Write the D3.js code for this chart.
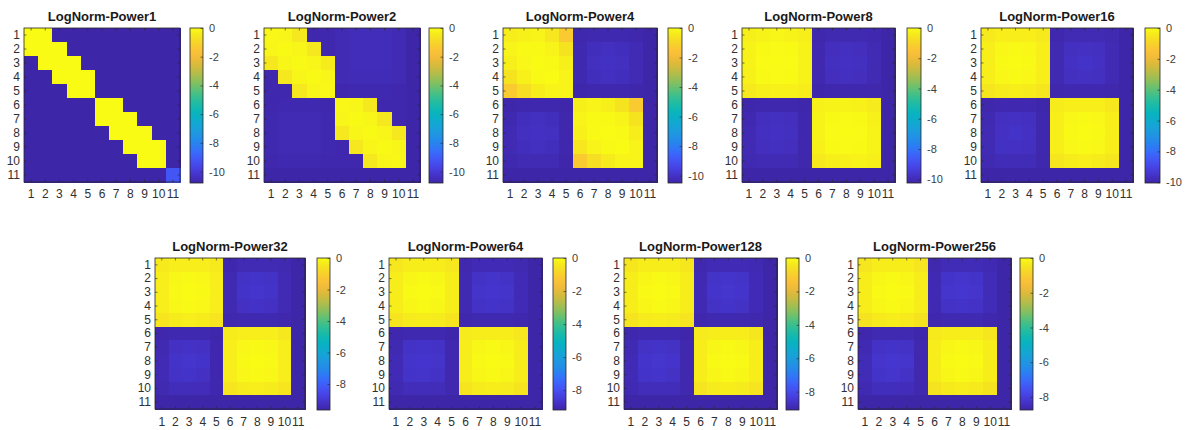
<!DOCTYPE html>
<html>
<head>
<meta charset="utf-8">
<script src="https://cdn.jsdelivr.net/npm/d3@7"></script>
<style>
  html, body { margin: 0; padding: 0; background: #ffffff; }
  svg { display: block; font-family: "Liberation Sans", Arial, Helvetica, sans-serif; }
</style>
</head>
<body>
<svg id="chart" width="1186" height="430"></svg>
<script>
// ---------------- DATA ----------------
const categories = ["1","2","3","4","5","6","7","8","9","10","11"];

const titles = ["LogNorm-Power1","LogNorm-Power2","LogNorm-Power4","LogNorm-Power8","LogNorm-Power16",
                "LogNorm-Power32","LogNorm-Power64","LogNorm-Power128","LogNorm-Power256"];

// colour limits (colorbar range) for each panel
const climLow  = [-10.8, -10.8, -10.5, -10.25, -10.05, -9.65, -9.2, -9.1, -8.75];
const climHigh = [0, 0, 0, 0, 0, 0, 0, 0, 0];

const cbTicksA = [0, -2, -4, -6, -8, -10];
const cbTicksB = [0, -2, -4, -6, -8];

// 11 x 11 log-normalised matrices (row = y label, column = x label)
const power1 = [
  [0,0,-10.8,-10.8,-10.8,-10.8,-10.8,-10.8,-10.8,-10.8,-10.8],
  [0,0,0,-10.8,-10.8,-10.8,-10.8,-10.8,-10.8,-10.8,-10.8],
  [-10.8,0,0,0,-10.8,-10.8,-10.8,-10.8,-10.8,-10.8,-10.8],
  [-10.8,-10.8,0,0,0,-10.8,-10.8,-10.8,-10.8,-10.8,-10.8],
  [-10.8,-10.8,-10.8,0,0,-10.8,-10.8,-10.8,-10.8,-10.8,-10.8],
  [-10.8,-10.8,-10.8,-10.8,-10.8,0,0,-10.8,-10.8,-10.8,-10.8],
  [-10.8,-10.8,-10.8,-10.8,-10.8,0,0,0,-10.8,-10.8,-10.8],
  [-10.8,-10.8,-10.8,-10.8,-10.8,-10.8,0,0,0,-10.8,-10.8],
  [-10.8,-10.8,-10.8,-10.8,-10.8,-10.8,-10.8,0,0,0,-10.8],
  [-10.8,-10.8,-10.8,-10.8,-10.8,-10.8,-10.8,-10.8,0,0,-10.8],
  [-10.8,-10.8,-10.8,-10.8,-10.8,-10.8,-10.8,-10.8,-10.8,-10.8,-9.2]
];
const power2 = [
  [-0.1,-0.15,-0.5,-10.7,-10.7,-10.6,-10.5,-10.5,-10.5,-10.6,-10.8],
  [-0.15,-0.05,-0.15,-0.5,-10.7,-10.6,-10.5,-10.5,-10.5,-10.6,-10.8],
  [-0.5,-0.15,-0.05,-0.15,-0.4,-10.6,-10.5,-10.5,-10.5,-10.6,-10.8],
  [-10.7,-0.5,-0.15,-0.05,-0.15,-10.6,-10.55,-10.55,-10.55,-10.6,-10.8],
  [-10.7,-10.7,-0.5,-0.15,-0.1,-10.7,-10.65,-10.65,-10.65,-10.7,-10.8],
  [-10.7,-10.65,-10.65,-10.65,-10.7,-0.1,-0.15,-0.5,-10.7,-10.7,-10.8],
  [-10.65,-10.6,-10.6,-10.6,-10.65,-0.15,-0.05,-0.15,-0.5,-10.7,-10.8],
  [-10.65,-10.6,-10.6,-10.6,-10.65,-0.5,-0.15,-0.05,-0.15,-0.5,-10.8],
  [-10.65,-10.6,-10.6,-10.6,-10.65,-10.7,-0.5,-0.15,-0.05,-0.15,-10.8],
  [-10.7,-10.65,-10.65,-10.65,-10.7,-10.7,-10.7,-0.5,-0.15,-0.1,-10.8],
  [-10.8,-10.8,-10.8,-10.8,-10.8,-10.8,-10.8,-10.8,-10.8,-10.8,-10.8]
];
const power4 = [
  [-0.35,-0.25,-0.2,-0.5,-1.3,-10.4,-10.35,-10.35,-10.35,-10.4,-10.5],
  [-0.2,-0.05,-0.05,-0.2,-0.6,-10.35,-10.15,-10.1,-10.15,-10.3,-10.5],
  [-0.3,-0.1,0,-0.05,-0.3,-10.35,-10.1,-10.05,-10.1,-10.3,-10.5],
  [-0.6,-0.25,-0.05,0,-0.2,-10.35,-10.15,-10.1,-10.15,-10.3,-10.5],
  [-1.3,-0.7,-0.35,-0.2,-0.2,-10.45,-10.4,-10.4,-10.4,-10.45,-10.5],
  [-10.45,-10.4,-10.4,-10.4,-10.45,-0.3,-0.2,-0.3,-0.6,-1.3,-10.5],
  [-10.35,-10.15,-10.1,-10.15,-10.4,-0.2,-0.05,-0.05,-0.2,-0.6,-10.5],
  [-10.3,-10.1,-10.05,-10.1,-10.4,-0.25,-0.05,0,-0.05,-0.35,-10.5],
  [-10.3,-10.15,-10.1,-10.15,-10.4,-0.5,-0.2,-0.05,0,-0.2,-10.5],
  [-10.35,-10.3,-10.3,-10.3,-10.45,-1.3,-0.7,-0.4,-0.2,-0.2,-10.5],
  [-10.5,-10.5,-10.5,-10.5,-10.5,-10.5,-10.5,-10.5,-10.5,-10.5,-10.5]
];
const power8 = [
  [-0.3,-0.2,-0.15,-0.2,-0.3,-10.15,-10.1,-10.1,-10.1,-10.12,-10.25],
  [-0.2,-0.05,-0.02,-0.05,-0.2,-10.12,-9.9,-9.85,-9.9,-10.05,-10.25],
  [-0.2,-0.02,0,-0.02,-0.2,-10.12,-9.85,-9.8,-9.85,-10.05,-10.25],
  [-0.25,-0.05,-0.02,-0.05,-0.2,-10.12,-9.9,-9.85,-9.9,-10.05,-10.25],
  [-0.45,-0.3,-0.25,-0.25,-0.35,-10.2,-10.15,-10.15,-10.15,-10.18,-10.25],
  [-10.2,-10.15,-10.15,-10.15,-10.2,-0.25,-0.2,-0.2,-0.25,-0.4,-10.25],
  [-10.12,-9.9,-9.85,-9.9,-10.15,-0.2,-0.05,-0.02,-0.05,-0.25,-10.25],
  [-10.05,-9.85,-9.8,-9.85,-10.15,-0.2,-0.02,0,-0.02,-0.2,-10.25],
  [-10.05,-9.9,-9.85,-9.9,-10.15,-0.25,-0.05,-0.02,-0.05,-0.2,-10.25],
  [-10.1,-10.05,-10.05,-10.05,-10.18,-0.45,-0.3,-0.25,-0.2,-0.3,-10.25],
  [-10.25,-10.25,-10.25,-10.25,-10.25,-10.25,-10.25,-10.25,-10.25,-10.25,-10.25]
];
const power16 = [
  [-0.4,-0.3,-0.3,-0.3,-0.4,-9.95,-9.85,-9.85,-9.85,-9.9,-10.05],
  [-0.3,-0.1,-0.05,-0.1,-0.3,-9.9,-9.65,-9.6,-9.65,-9.85,-10.05],
  [-0.3,-0.05,0,-0.05,-0.3,-9.9,-9.6,-9.55,-9.6,-9.85,-10.05],
  [-0.3,-0.1,-0.05,-0.1,-0.3,-9.9,-9.65,-9.6,-9.65,-9.85,-10.05],
  [-0.5,-0.35,-0.3,-0.35,-0.5,-9.98,-9.92,-9.92,-9.92,-9.98,-10.05],
  [-9.98,-9.92,-9.92,-9.92,-10.0,-0.35,-0.3,-0.3,-0.3,-0.45,-10.05],
  [-9.9,-9.65,-9.6,-9.65,-9.95,-0.3,-0.1,-0.05,-0.1,-0.3,-10.05],
  [-9.85,-9.6,-9.55,-9.6,-9.95,-0.3,-0.05,0,-0.05,-0.3,-10.05],
  [-9.85,-9.62,-9.6,-9.65,-9.95,-0.3,-0.1,-0.05,-0.1,-0.3,-10.05],
  [-9.9,-9.8,-9.8,-9.82,-9.95,-0.5,-0.35,-0.3,-0.35,-0.5,-10.05],
  [-10.05,-10.05,-10.05,-10.05,-10.05,-10.05,-10.05,-10.05,-10.05,-10.05,-10.05]
];
const power32 = [
  [-0.4,-0.3,-0.3,-0.3,-0.4,-9.55,-9.45,-9.45,-9.45,-9.5,-9.65],
  [-0.3,-0.1,-0.05,-0.1,-0.3,-9.5,-9.2,-9.15,-9.2,-9.45,-9.65],
  [-0.3,-0.05,0,-0.05,-0.3,-9.5,-9.15,-9.1,-9.15,-9.45,-9.65],
  [-0.3,-0.1,-0.05,-0.1,-0.3,-9.5,-9.22,-9.18,-9.22,-9.45,-9.65],
  [-0.5,-0.35,-0.3,-0.35,-0.5,-9.58,-9.52,-9.52,-9.52,-9.58,-9.65],
  [-9.58,-9.52,-9.52,-9.52,-9.6,-0.35,-0.3,-0.3,-0.3,-0.45,-9.65],
  [-9.5,-9.22,-9.18,-9.22,-9.55,-0.3,-0.1,-0.05,-0.1,-0.3,-9.65],
  [-9.45,-9.15,-9.1,-9.15,-9.55,-0.3,-0.05,0,-0.05,-0.3,-9.65],
  [-9.45,-9.18,-9.15,-9.22,-9.55,-0.3,-0.1,-0.05,-0.1,-0.3,-9.65],
  [-9.5,-9.38,-9.38,-9.4,-9.55,-0.5,-0.35,-0.3,-0.35,-0.5,-9.65],
  [-9.65,-9.65,-9.65,-9.65,-9.65,-9.65,-9.65,-9.65,-9.65,-9.65,-9.65]
];
const power64 = [
  [-0.45,-0.3,-0.3,-0.3,-0.45,-9.1,-9.0,-9.0,-9.0,-9.05,-9.2],
  [-0.3,-0.1,-0.05,-0.1,-0.3,-9.05,-8.75,-8.7,-8.75,-9.0,-9.2],
  [-0.3,-0.05,0,-0.05,-0.3,-9.05,-8.7,-8.65,-8.7,-9.0,-9.2],
  [-0.3,-0.1,-0.05,-0.1,-0.3,-9.05,-8.78,-8.74,-8.78,-9.0,-9.2],
  [-0.5,-0.35,-0.3,-0.35,-0.5,-9.13,-9.07,-9.07,-9.07,-9.13,-9.2],
  [-9.13,-9.07,-9.07,-9.07,-9.15,-0.35,-0.3,-0.3,-0.3,-0.45,-9.2],
  [-9.05,-8.78,-8.74,-8.78,-9.1,-0.3,-0.1,-0.05,-0.1,-0.3,-9.2],
  [-9.0,-8.7,-8.65,-8.7,-9.1,-0.3,-0.05,0,-0.05,-0.3,-9.2],
  [-9.0,-8.74,-8.7,-8.78,-9.1,-0.3,-0.1,-0.05,-0.1,-0.3,-9.2],
  [-9.05,-8.93,-8.93,-8.95,-9.1,-0.5,-0.35,-0.3,-0.35,-0.5,-9.2],
  [-9.2,-9.2,-9.2,-9.2,-9.2,-9.2,-9.2,-9.2,-9.2,-9.2,-9.2]
];
const power128 = [
  [-0.45,-0.3,-0.3,-0.3,-0.45,-9.0,-8.9,-8.9,-8.9,-8.95,-9.1],
  [-0.3,-0.1,-0.05,-0.1,-0.3,-8.95,-8.65,-8.6,-8.65,-8.9,-9.1],
  [-0.3,-0.05,0,-0.05,-0.3,-8.95,-8.6,-8.55,-8.6,-8.9,-9.1],
  [-0.3,-0.1,-0.05,-0.1,-0.3,-8.95,-8.68,-8.64,-8.68,-8.9,-9.1],
  [-0.5,-0.35,-0.3,-0.35,-0.5,-9.03,-8.97,-8.97,-8.97,-9.03,-9.1],
  [-9.03,-8.97,-8.97,-8.97,-9.05,-0.35,-0.3,-0.3,-0.3,-0.45,-9.1],
  [-8.95,-8.68,-8.64,-8.68,-9.0,-0.3,-0.1,-0.05,-0.1,-0.3,-9.1],
  [-8.9,-8.6,-8.55,-8.6,-9.0,-0.3,-0.05,0,-0.05,-0.3,-9.1],
  [-8.9,-8.64,-8.6,-8.68,-9.0,-0.3,-0.1,-0.05,-0.1,-0.3,-9.1],
  [-8.95,-8.83,-8.83,-8.85,-9.0,-0.5,-0.35,-0.3,-0.35,-0.5,-9.1],
  [-9.1,-9.1,-9.1,-9.1,-9.1,-9.1,-9.1,-9.1,-9.1,-9.1,-9.1]
];
const power256 = [
  [-0.45,-0.3,-0.3,-0.3,-0.45,-8.65,-8.55,-8.55,-8.55,-8.6,-8.75],
  [-0.3,-0.1,-0.05,-0.1,-0.3,-8.6,-8.3,-8.25,-8.3,-8.55,-8.75],
  [-0.3,-0.05,0,-0.05,-0.3,-8.6,-8.25,-8.2,-8.25,-8.55,-8.75],
  [-0.3,-0.1,-0.05,-0.1,-0.3,-8.6,-8.33,-8.29,-8.33,-8.55,-8.75],
  [-0.5,-0.35,-0.3,-0.35,-0.5,-8.68,-8.62,-8.62,-8.62,-8.68,-8.75],
  [-8.68,-8.62,-8.62,-8.62,-8.7,-0.35,-0.3,-0.3,-0.3,-0.45,-8.75],
  [-8.6,-8.33,-8.29,-8.33,-8.65,-0.3,-0.1,-0.05,-0.1,-0.3,-8.75],
  [-8.55,-8.25,-8.2,-8.25,-8.65,-0.3,-0.05,0,-0.05,-0.3,-8.75],
  [-8.55,-8.29,-8.25,-8.33,-8.65,-0.3,-0.1,-0.05,-0.1,-0.3,-8.75],
  [-8.6,-8.48,-8.48,-8.5,-8.65,-0.5,-0.35,-0.3,-0.35,-0.5,-8.75],
  [-8.75,-8.75,-8.75,-8.75,-8.75,-8.75,-8.75,-8.75,-8.75,-8.75,-8.75]
];
const matrices = [power1, power2, power4, power8, power16, power32, power64, power128, power256];

// ---------------- LAYOUT ----------------
// [plotLeft, plotRight, plotTop, plotBottom, cbLeft, cbRight]
const layout = [
  [24, 180, 28, 182, 190, 203],
  [264, 420, 28, 182, 429, 443],
  [503, 657, 28, 182, 668, 682],
  [742, 895, 28, 182, 907, 921],
  [981, 1133, 28, 182, 1145, 1160],
  [155, 305, 258, 409, 317, 330],
  [389, 542, 258, 409, 553, 566],
  [624, 777, 258, 409, 786, 799],
  [858, 1011, 258, 409, 1020, 1033]
];

// parula colormap stops (MATLAB default)
const parulaStops = [
  [62,38,168],[69,50,200],[71,66,230],[68,85,246],[55,108,253],[40,130,240],
  [33,146,228],[26,160,218],[14,171,206],[5,180,190],[25,186,170],[50,191,148],
  [90,193,120],[135,192,95],[175,189,75],[210,186,62],[238,185,56],[254,193,58],
  [246,210,42],[245,230,30],[249,251,21]
];
const parula = d3.interpolateRgbBasis(parulaStops.map(c => d3.rgb(c[0], c[1], c[2])));

// ---------------- DRAW ----------------
const svg = d3.select("#chart");
const defs = svg.append("defs");
const textColor = "#303030";

matrices.forEach((mat, k) => {
  const [L, R, T, B, cL, cR] = layout[k];
  const g = svg.append("g");

  const x = d3.scaleBand().domain(categories).range([L, R]);
  const y = d3.scaleBand().domain(categories).range([T, B]);
  const color = d3.scaleSequential(parula).domain([climLow[k], climHigh[k]]).clamp(true);

  const cells = [];
  mat.forEach((row, i) => row.forEach((v, j) => cells.push({r: categories[i], c: categories[j], v})));

  g.selectAll("rect.cell").data(cells).join("rect")
    .attr("class", "cell")
    .attr("x", d => x(d.c))
    .attr("y", d => y(d.r))
    .attr("width", x.bandwidth() + 0.5)
    .attr("height", y.bandwidth() + 0.5)
    .attr("fill", d => color(d.v))
    .attr("shape-rendering", "crispEdges");

  // axes (ticks pointing inward like MATLAB)
  const fmt = d => d;
  const xb = g.append("g").attr("transform", `translate(0,${B})`)
    .call(d3.axisBottom(x).tickSizeInner(-2.5).tickSizeOuter(0).tickPadding(k < 5 ? 7 : 8).tickFormat(fmt));
  const xt = g.append("g").attr("transform", `translate(0,${T})`)
    .call(d3.axisTop(x).tickSizeInner(-2.5).tickSizeOuter(0).tickFormat(""));
  const yl = g.append("g").attr("transform", `translate(${L},0)`)
    .call(d3.axisLeft(y).tickSizeInner(-2.5).tickSizeOuter(0).tickPadding(4).tickFormat(fmt));
  const yr = g.append("g").attr("transform", `translate(${R},0)`)
    .call(d3.axisRight(y).tickSizeInner(-2.5).tickSizeOuter(0).tickFormat(""));
  [xb, xt, yl, yr].forEach(a => {
    a.select(".domain").remove();
    a.selectAll("line").attr("stroke", "#262626").attr("stroke-width", 0.6);
    a.selectAll("text").attr("fill", textColor).attr("font-size", 12)
      .attr("font-family", "'Liberation Sans', Arial, sans-serif");
  });

  // frame
  g.append("rect").attr("x", L).attr("y", T).attr("width", R - L).attr("height", B - T)
    .attr("fill", "none").attr("stroke", "#262626").attr("stroke-width", 0.8);

  // title
  g.append("text").attr("x", (L + R) / 2).attr("y", T - 7)
    .attr("text-anchor", "middle").attr("font-weight", "bold").attr("font-size", 13)
    .attr("fill", "#1a1a1a").text(titles[k]);

  // colorbar
  const gid = "grad" + k;
  const grad = defs.append("linearGradient").attr("id", gid)
    .attr("x1", 0).attr("y1", 1).attr("x2", 0).attr("y2", 0);
  d3.range(0, 1.0001, 0.02).forEach(t => {
    grad.append("stop").attr("offset", t).attr("stop-color", parula(t));
  });
  g.append("rect").attr("x", cL).attr("y", T).attr("width", cR - cL).attr("height", B - T + 1)
    .attr("fill", `url(#${gid})`).attr("stroke", "#262626").attr("stroke-width", 0.8);

  const cs = d3.scaleLinear().domain([climLow[k], climHigh[k]]).range([B + 1, T]);
  const ticks = k < 5 ? cbTicksA : cbTicksB;
  const cb = g.append("g").attr("transform", `translate(${cR},0)`)
    .call(d3.axisRight(cs).tickValues(ticks).tickSizeInner(-2.5).tickSizeOuter(0).tickPadding(6)
      .tickFormat(d => String(d)));
  cb.select(".domain").remove();
  cb.selectAll("line").attr("stroke", "#262626").attr("stroke-width", 0.6);
  cb.selectAll("text").attr("fill", "#404040").attr("font-size", 11)
    .attr("font-family", "'Liberation Sans', Arial, sans-serif");
});
</script>
</body>
</html>
